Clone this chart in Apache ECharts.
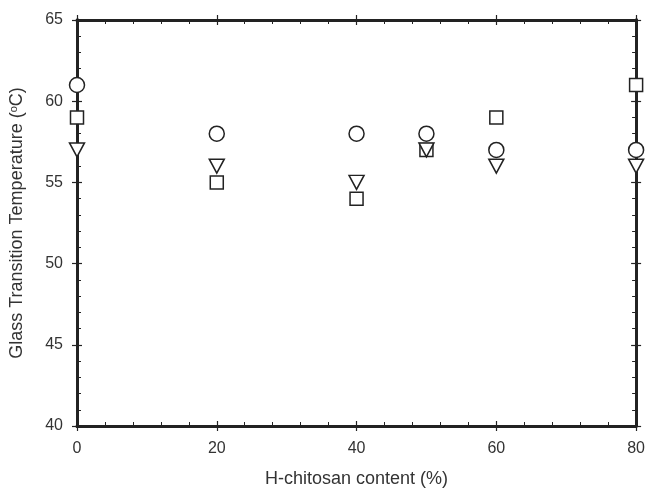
<!DOCTYPE html>
<html>
<head>
<meta charset="utf-8">
<script src="https://cdn.jsdelivr.net/npm/echarts@6/dist/echarts.min.js"></script>
<style>
  html, body { margin: 0; padding: 0; background: #fff; }
  #chart { width: 648px; height: 493px; }
</style>
</head>
<body>
<div id="chart"></div>
<script>
// H-chitosan content (%)
const content = [0, 20, 40, 50, 60, 80];
// glass transition temperature, one list per marker
const circleVals = [61, 58, 58, 58, 57, 57];
const squareVals = [59, 55, 54, 57, 59, 61];
const triangleVals = [57, 56, 55, 57, 56, 56];
const xTicks = [0, 20, 40, 60, 80];
const yTicks = [40, 45, 50, 55, 60, 65];

const ink = '#222';
const font = 'Liberation Sans, Arial, sans-serif';

function pairs(vals) {
  return content.map((x, i) => [x, vals[i]]);
}

function xAxisOf(pos, inside, main) {
  return {
    type: 'value', position: pos, min: 0, max: 80, interval: 20,
    name: main ? 'H-chitosan content (%)' : '',
    nameLocation: 'middle', nameGap: 44,
    nameTextStyle: { fontFamily: font, fontSize: 18, color: '#333' },
    axisLine: { show: true, onZero: false, lineStyle: { color: ink, width: 2.8 } },
    axisTick: { show: true, inside: inside, length: 5, lineStyle: { color: ink, width: 1.2 } },
    minorTick: { show: inside, splitNumber: 5, length: 4, lineStyle: { color: ink, width: 1 } },
    axisLabel: {
      show: main, margin: 15, fontFamily: font, fontSize: 16, color: '#333',
      formatter: v => xTicks.includes(v) ? String(v) : ''
    },
    splitLine: { show: false }
  };
}

function yAxisOf(pos, inside, main) {
  return {
    type: 'value', position: pos, min: 40, max: 65, interval: 5,
    name: main ? 'Glass Transition Temperature ({sup|o}C)' : '',
    nameLocation: 'middle', nameGap: 50,
    nameTextStyle: {
      fontFamily: font, fontSize: 18, color: '#333',
      rich: { sup: { fontFamily: font, fontSize: 11, color: '#333', verticalAlign: 'top', padding: [0, 0, 8, 0] } }
    },
    axisLine: { show: true, onZero: false, lineStyle: { color: ink, width: 2.8 } },
    axisTick: { show: true, inside: inside, length: 5, lineStyle: { color: ink, width: 1.2 } },
    minorTick: { show: inside, splitNumber: 5, length: 4, lineStyle: { color: ink, width: 1 } },
    axisLabel: {
      show: main, margin: 14, fontFamily: font, fontSize: 16, color: '#333',
      formatter: v => yTicks.includes(v) ? String(v) : ''
    },
    splitLine: { show: false }
  };
}

function markerSeries(name, vals, symbol, size, rotate) {
  return {
    name: name, type: 'scatter', data: pairs(vals),
    symbol: symbol, symbolSize: size, symbolRotate: rotate || 0,
    clip: false, z: 5,
    itemStyle: { color: '#fff', borderColor: ink, borderWidth: 1.5, opacity: 1 }
  };
}

const chart = echarts.init(document.getElementById('chart'), null, { renderer: 'canvas' });
chart.setOption({
  animation: false,
  backgroundColor: '#fff',
  grid: { left: 75, right: 8, top: 20, bottom: 66, containLabel: false },
  xAxis: [
    xAxisOf('bottom', false, true),
    xAxisOf('bottom', true, false),
    xAxisOf('top', false, false),
    xAxisOf('top', true, false)
  ],
  yAxis: [
    yAxisOf('left', false, true),
    yAxisOf('left', true, false),
    yAxisOf('right', false, false),
    yAxisOf('right', true, false)
  ],
  series: [
    markerSeries('square', squareVals, 'rect', 13),
    markerSeries('triangle', triangleVals, 'triangle', [15, 14], 180),
    markerSeries('circle', circleVals, 'circle', 15)
  ]
});
</script>
</body>
</html>
